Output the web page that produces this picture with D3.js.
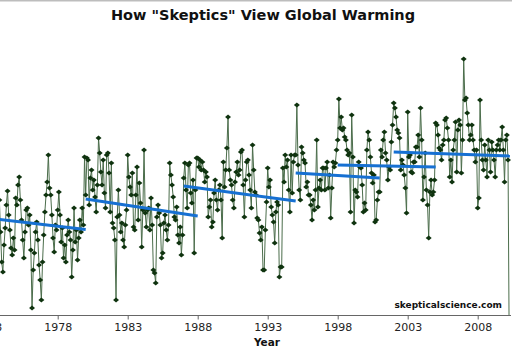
<!DOCTYPE html>
<html><head><meta charset="utf-8">
<script src="https://cdn.jsdelivr.net/npm/d3@7"></script>
<style>body{margin:0;background:#fff;} svg{display:block;font-family:"DejaVu Sans",Verdana,sans-serif;}</style>
</head><body><svg id="c" width="512" height="350"></svg>
<script>
// Monthly anomalies (deg C), Nov 1973 onward
const firstYear = 1973, firstMonth = 10;
const anom1970s = [
  0.125, -0.035,
  -0.185, -0.235, -0.1, -0.015, 0.1, 0.17, 0.05, -0.025, -0.115, -0.15, -0.065, -0.125,
  0.135, 0.1, 0.2, 0.24, 0.125, 0.025, -0.075, -0.165, -0.035, 0.075, 0.085, 0,
  0.05, -0.125, -0.415, -0.225, -0.14, -0.035, 0.015, -0.075, -0.2, -0.275, -0.375, -0.185,
  -0.05, 0.065, 0.15, 0.215, 0.35, 0.185, 0.15, 0.05, -0.065, -0.135, 0, -0.025,
  0.075, 0.165, 0.05, -0.085, -0.015, -0.165, -0.1, -0.185, -0.05, 0.025, -0.035, -0.075,
  -0.26, -0.125, 0.085, -0.085, -0.025, -0.175, -0.065, 0.025, -0.035, 0.085, 0, 0.34
];
const anom1980s = [
  0.15, 0.335, 0.325, 0.1, 0.235, 0.275, 0.175, 0.225, 0.14, 0.065, 0.2, 0.435,
  0.36, 0.265, 0.2, 0.325, 0.16, 0.085, 0.35, 0.36, 0.26, 0.065, 0.31, 0.01,
  -0.015, -0.075, -0.375, 0.04, 0.175, 0.05, -0.035, 0.01, -0.075, -0.11, 0, 0.075,
  0.35, 0.24, 0.19, 0.15, 0.26, -0.01, -0.025, 0.15, 0.29, 0.025, 0.21, 0.11,
  -0.11, 0.075, 0.375, 0.06, -0.01, 0.075, 0.085, -0.025, 0.135, 0, -0.225, -0.24,
  -0.29, 0.04, 0.1, 0.06, 0, -0.165, -0.14, 0.01, 0.05, -0.025, -0.075, 0,
  0.31, 0.25, 0.2, 0.14, 0.04, 0.025, 0.09, -0.05, -0.09, -0.01, -0.15, -0.05,
  0.235, 0.31, 0.175, 0.085, 0.3, 0.31, 0.16, 0.11, 0.225, -0.14, 0.175, 0.335,
  0.335, 0.29, 0.325, 0.275, 0.315, 0.275, 0.215, 0.265, 0.24, 0.04, 0.09, 0.125,
  -0.01, 0.015, 0.16, 0.225, 0.125, 0.075, 0.175, 0.2, 0.125, -0.065, 0.315, 0.19
];
const anom1990s = [
  0.275, 0.385, 0.54, 0.275, 0.225, 0.2, 0.125, 0.085, 0.215, 0.265, 0.315, 0.25,
  0.275, 0.365, 0.375, 0.2, 0.04, 0.225, 0.315, 0.325, 0.25, 0.175, 0.085, 0.4,
  0.275, 0.165, 0.15, 0.035, 0.025, -0.04, -0.075, -0.01, -0.225, -0.225, -0.025, 0.115,
  0.285, 0.19, 0.225, 0.09, 0.05, 0.015, -0.09, 0.065, 0.115, 0.1, -0.26, -0.21,
  -0.21, 0.285, 0.215, 0.35, 0.29, 0.325, 0.175, 0.065, 0.35, 0.16, 0.315, 0.35,
  0.35, 0.6, 0.3, 0.175, 0.125, 0.39, 0.36, 0.325, 0.31, 0.19, 0.215, 0.15,
  0.15, 0.1, 0.025, 0.125, 0.075, 0.175, 0.425, 0.09, 0.185, 0.225, 0.175, 0.285,
  0.285, 0.175, 0.285, 0.315, 0.185, 0.25, 0.035, 0.185, 0.315, 0.29, 0.31, 0.375,
  0.425, 0.63, 0.485, 0.54, 0.475, 0.485, 0.44, 0.425, 0.375, 0.35, 0.36, 0.065,
  0.55, 0.34, 0.01, 0.175, 0.165, 0.14, 0.315, 0.29, 0.285, 0.2, 0.065, 0.11
];
const anom2000s = [
  0.075, 0.375, 0.465, 0.425, 0.34, 0.26, 0.21, 0.25, 0.015, 0.025, 0.125, 0.165,
  0.165, 0.375, 0.34, 0.425, 0.465, 0.36, 0.325, 0.225, 0.29, 0.275, 0.415, 0.5,
  0.61, 0.585, 0.54, 0.475, 0.46, 0.435, 0.275, 0.325, 0.3, 0.25, 0.185, 0.06,
  0.565, 0.34, 0.35, 0.265, 0.26, 0.315, 0.315, 0.39, 0.39, 0.45, 0.34, 0.585,
  0.425, 0.125, 0.24, 0.36, 0.175, 0.1, -0.065, 0.165, 0.225, 0.15, 0.165, 0.225,
  0.51, 0.5, 0.45, 0.385, 0.375, 0.325, 0.4, 0.425, 0.525, 0.535, 0.485, 0.425,
  0.24, 0.325, 0.215, 0.375, 0.425, 0.515, 0.265, 0.475, 0.525, 0.5, 0.26, 0.425,
  0.83, 0.625, 0.635, 0.56, 0.5, 0.425, 0.45, 0.5, 0.425, 0.375, 0.315, 0.375,
  0.085, 0.135, 0.625, 0.425, 0.325, 0.275, 0.4, 0.325, 0.24, 0.425, 0.375, 0.265,
  0.415, 0.375, 0.325, 0.24, 0.375, 0.4, 0.425, 0.375, 0.425, 0.49, 0.375, 0.215,
  0.425, 0.45, 0.325, -0.6
];
// "Skeptic" short trend segments
const trendFrom    = [1973, 1980, 1987, 1995, 1998, 2002];
const trendTo      = [1980, 1988, 1995, 2001, 2005, 2010.3];
const trendFromVal = [0.035, 0.13, 0.195, 0.26, 0.30, 0.365];
const trendToVal   = [-0.022, 0.045, 0.12, 0.235, 0.29, 0.345];
const tickYears = [1973, 1978, 1983, 1988, 1993, 1998, 2003, 2008];
const titleText = 'How "Skeptics" View Global Warming';
const xTitle = "Year";
const credit = "skepticalscience.com";

const series = [].concat(anom1970s, anom1980s, anom1990s, anom2000s)
  .map((v, i) => ({t: firstYear + (firstMonth + i) / 12, v}));
const trends = trendFrom.map((f, i) => ({f, t: trendTo[i], fv: trendFromVal[i], tv: trendToVal[i]}));

const svg = d3.select("#c");
const x = d3.scaleLinear().domain([1978, 2008]).range([57.7, 477.7]);
const y = d3.scaleLinear().domain([-0.45, 0.95]).range([315, 35]);

svg.append("rect").attr("x", 0).attr("y", 0).attr("width", 512).attr("height", 1.5).attr("fill", "#bdbdbd");

svg.append("defs").append("clipPath").attr("id", "plot")
  .append("rect").attr("x", 0).attr("y", 30).attr("width", 511).attr("height", 285);

const g = svg.append("g").attr("clip-path", "url(#plot)");

g.append("path").datum(series)
  .attr("fill", "none").attr("stroke", "#4b6d4b").attr("stroke-width", 1)
  .attr("d", d3.line().x(d => x(d.t)).y(d => y(d.v)));

g.selectAll("path.m").data(series).join("path").attr("class", "m")
  .attr("transform", d => `translate(${x(d.t)},${y(d.v)})`)
  .attr("d", "M0,-2.5L3,0L0,2.5L-3,0Z")
  .attr("fill", "#0f330f");

g.selectAll("line.tr").data(trends).join("line").attr("class", "tr")
  .attr("x1", d => x(d.f)).attr("y1", d => y(d.fv))
  .attr("x2", d => x(d.t)).attr("y2", d => y(d.tv))
  .attr("stroke", "#1670d2").attr("stroke-width", 3);

// x axis
svg.append("line").attr("x1", 0).attr("x2", 511).attr("y1", 315.5).attr("y2", 315.5)
  .attr("stroke", "#666").attr("stroke-width", 1);
const ax = svg.append("g").attr("transform", "translate(0,315.5)")
  .call(d3.axisBottom(x).tickValues(tickYears).tickFormat(d3.format("d")).tickSize(4).tickPadding(4));
ax.select(".domain").remove();
ax.selectAll(".tick line").attr("stroke", "#666");
ax.selectAll(".tick text").attr("fill", "#222").style("font-size", "11px").style("font-family", '"DejaVu Sans",Verdana,sans-serif');

svg.append("text").attr("x", 263).attr("y", 20).attr("text-anchor", "middle")
  .style("font-weight", "bold").style("font-size", "14.5px").attr("fill", "#111").text(titleText);
svg.append("text").attr("x", 267).attr("y", 345.5).attr("text-anchor", "middle")
  .style("font-weight", "bold").style("font-size", "10.5px").attr("fill", "#111").text(xTitle);
svg.append("text").attr("x", 502).attr("y", 308).attr("text-anchor", "end")
  .style("font-weight", "bold").style("font-size", "9px").attr("fill", "#111").text(credit);
</script></body></html>
